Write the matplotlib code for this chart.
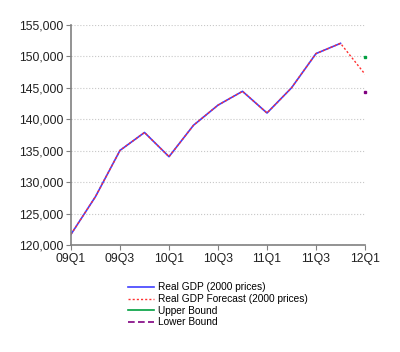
import matplotlib
matplotlib.use("Agg")
import matplotlib.pyplot as plt
from matplotlib.ticker import FuncFormatter

plt.rcParams['font.family'] = ['Liberation Sans', 'DejaVu Sans']

quarters = ['09Q1', '09Q2', '09Q3', '09Q4', '10Q1', '10Q2', '10Q3', '10Q4',
            '11Q1', '11Q2', '11Q3', '11Q4', '12Q1']
real_gdp = [121700, 127700, 135050, 137900, 134050, 139050, 142250, 144450,
            141000, 145000, 150450, 152080]
forecast = real_gdp + [147170]
upper_bound = [149890]
lower_bound = [144400]
tick_labels = ['09Q1', '09Q3', '10Q1', '10Q3', '11Q1', '11Q3', '12Q1']

fig = plt.figure(figsize=(4, 3.52), dpi=100)
ax = fig.add_axes([0.1775, 0.304, 0.735, 0.625])

x_hist = list(range(len(real_gdp)))
x_all = list(range(len(forecast)))
last = len(quarters) - 1

ax.plot(x_hist, real_gdp, color='#4040ff', lw=1.2, label='Real GDP (2000 prices)')
ax.plot(x_all, forecast, color='#ff3030', lw=1.0, ls=(0, (1.5, 1.5)),
        label='Real GDP Forecast (2000 prices)')
ax.plot([last], upper_bound, color='#00a040', marker='s', ms=2, lw=1.2,
        clip_on=False, label='Upper Bound')
ax.plot([last], lower_bound, color='#800080', marker='s', ms=2, lw=1.2,
        ls=(0, (4, 2)), clip_on=False, label='Lower Bound')

ax.set_xlim(0, last)
ax.set_ylim(120000, 155000)
ax.set_xticks([quarters.index(t) for t in tick_labels])
ax.set_xticklabels(tick_labels)
ax.set_yticks(range(120000, 155001, 5000))
ax.yaxis.set_major_formatter(FuncFormatter(lambda v, p: f'{int(v):,}'))
ax.tick_params(labelsize=8.8, color='#808080', length=3.5, pad=2,
               direction='out', labelcolor='#202020')
ax.grid(axis='y', color='#c8c8c8', ls=':', lw=0.8)
ax.set_axisbelow(True)
for s in ['top', 'right']:
    ax.spines[s].set_visible(False)
for s in ['left', 'bottom']:
    ax.spines[s].set_color('#808080')
    ax.spines[s].set_linewidth(1.2)

leg = fig.legend(loc='upper left', bbox_to_anchor=(0.3075, 0.212), frameon=False,
                 fontsize=7.3, handlelength=2.6, handletextpad=0.4,
                 labelspacing=0.16, borderpad=0)
for h in leg.legend_handles:
    h.set_marker('')

fig.savefig('out.png', dpi=100)
